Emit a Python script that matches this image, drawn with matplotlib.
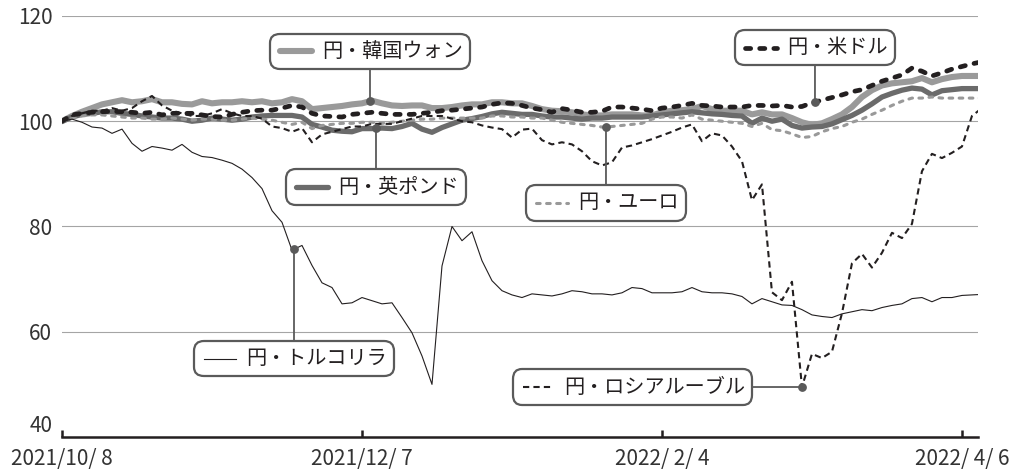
import numpy as np
import matplotlib
matplotlib.use("Agg")
import matplotlib.pyplot as plt
from matplotlib.lines import Line2D
from matplotlib.offsetbox import AnnotationBbox, DrawingArea, TextArea, HPacker

plt.rcParams['font.family'] = ['Noto Sans CJK JP', 'DejaVu Sans']

# --- DATA: one value per step along the date axis (ticks at 0, 30, 60, 90) ---
TICK_POS = [0, 30, 60, 90]
TICK_LABELS = ["2021/10/ 8", "2021/12/ 7", "2022/ 2/ 4", "2022/ 4/ 6"]
Y_TICKS = [40, 60, 80, 100, 120]

krw = [100.0, 101.0, 101.8, 102.5, 103.2, 103.6, 104.0, 103.6, 103.8, 104.2,
       103.6, 103.6, 103.3, 103.2, 103.8, 103.4, 103.6, 103.6, 103.8, 103.6,
       103.8, 103.4, 103.6, 104.2, 103.8, 102.3, 102.5, 102.7, 102.9, 103.2,
       103.4, 103.9, 103.4, 103.0, 102.9, 103.0, 103.0, 102.5, 102.5, 102.7,
       103.0, 103.2, 103.2, 103.6, 103.6, 103.4, 103.4, 102.9, 102.3, 102.0,
       101.9, 101.7, 101.3, 101.1, 101.1, 101.3, 101.3, 101.3, 101.1, 101.1,
       101.7, 102.0, 102.1, 102.3, 102.9, 102.3, 102.0, 102.0, 102.0, 101.3,
       101.7, 101.3, 101.3, 100.6, 99.8, 99.3, 99.6, 100.4, 101.3, 102.7,
       104.6, 105.9, 106.8, 107.2, 107.4, 107.6, 108.2, 107.4, 108.0, 108.4,
       108.6, 108.6, 108.6]

gbp = [100.0, 100.8, 101.3, 101.5, 101.8, 101.8, 101.5, 101.3, 101.0, 100.8,
       100.6, 100.6, 100.4, 100.0, 100.2, 100.6, 100.4, 100.2, 100.4, 100.8,
       101.0, 101.1, 101.1, 101.1, 100.8, 99.4, 98.9, 98.3, 98.1, 98.0,
       98.6, 98.6, 98.7, 98.6, 99.0, 99.6, 98.5, 97.9, 98.8, 99.5,
       100.2, 100.5, 100.9, 101.4, 101.7, 101.5, 101.3, 101.3, 101.0, 100.8,
       100.8, 100.6, 100.4, 100.6, 100.6, 100.8, 100.8, 100.8, 100.8, 101.0,
       101.2, 101.4, 101.6, 101.8, 101.6, 101.4, 101.3, 101.1, 101.0, 99.6,
       100.6, 100.0, 100.4, 99.2, 98.7, 98.9, 99.0, 99.5, 100.3, 101.1,
       102.1, 103.3, 104.6, 105.3, 105.9, 106.3, 106.1, 105.0, 105.8, 106.0,
       106.2, 106.2, 106.2]

eur = [100.0, 100.6, 101.0, 101.2, 101.2, 101.0, 100.8, 100.6, 100.6, 100.4,
       100.4, 100.6, 100.4, 100.2, 100.4, 100.4, 100.2, 100.2, 100.4, 100.6,
       100.4, 100.2, 99.8, 99.4, 99.8, 98.6, 99.2, 99.4, 99.6, 99.6,
       99.8, 99.8, 99.6, 99.8, 100.0, 100.2, 100.4, 100.4, 100.6, 100.6,
       100.6, 100.6, 100.6, 101.0, 101.0, 100.8, 100.8, 100.6, 100.6, 100.2,
       99.8, 99.6, 99.4, 99.2, 98.9, 99.0, 99.2, 99.4, 99.6, 100.4,
       100.8, 100.8, 100.6, 101.2, 100.4, 100.2, 100.0, 99.8, 99.6, 99.0,
       99.6, 98.4, 98.2, 97.6, 96.9, 97.1, 98.0, 98.6, 99.0, 99.8,
       100.4, 101.3, 102.1, 103.0, 103.8, 104.4, 104.4, 104.6, 104.4, 104.4,
       104.4, 104.4, 104.4]

rub = [100.0, 101.0, 101.5, 102.0, 102.0, 102.5, 102.0, 102.5, 103.8, 104.8,
       103.0, 102.0, 101.5, 101.0, 101.0, 101.5, 102.3, 101.5, 101.0, 101.0,
       100.5, 99.0, 98.7, 98.0, 98.7, 96.0, 97.5, 98.0, 98.5, 99.0,
       99.0, 99.5, 99.5, 99.5, 100.0, 100.5, 101.0, 101.0, 101.0, 100.5,
       100.0, 99.8, 99.2, 98.8, 98.5, 96.9, 98.4, 98.6, 96.4, 95.6,
       96.0, 95.6, 94.3, 92.4, 91.6, 92.2, 95.0, 95.4, 96.0, 96.6,
       97.3, 98.0, 98.8, 99.4, 96.2, 97.7, 97.3, 95.2, 92.4, 85.0,
       88.0, 67.5, 66.0, 69.5, 49.5, 55.8, 55.0, 56.2, 63.5, 73.0,
       74.8, 72.2, 75.0, 78.8, 77.8, 80.5, 90.5, 93.8, 93.0, 94.0,
       95.2, 101.0, 102.5]

usd = [100.0, 101.2, 101.5, 101.7, 101.8, 101.9, 101.8, 101.7, 101.5, 101.7,
       101.2, 101.5, 101.5, 101.5, 101.2, 100.9, 100.8, 101.3, 101.7, 102.0,
       102.1, 102.1, 102.5, 103.0, 102.7, 101.5, 101.0, 100.9, 100.8, 101.3,
       101.5, 101.7, 101.5, 101.3, 101.3, 101.3, 101.5, 101.7, 102.0, 102.1,
       102.3, 102.5, 102.7, 103.2, 103.5, 103.4, 103.0, 102.5, 102.2, 101.7,
       102.4, 102.1, 101.7, 101.7, 101.9, 102.7, 102.7, 102.5, 102.3, 102.0,
       102.5, 102.7, 103.0, 103.4, 103.0, 102.9, 102.7, 102.7, 102.7, 103.0,
       103.0, 102.9, 103.0, 102.7, 102.8, 103.5, 104.0, 104.5, 105.0, 105.6,
       106.0, 106.8, 107.6, 108.2, 108.8, 110.1, 109.5, 108.6, 109.2, 109.9,
       110.4, 110.9, 111.3]

lira = [100.0, 100.4, 99.8, 98.9, 98.7, 97.7, 98.5, 95.8, 94.3, 95.2,
        94.9, 94.5, 95.6, 94.1, 93.3, 93.1, 92.6, 92.0, 90.9, 89.3,
        87.2, 83.0, 80.8, 75.5, 76.4, 72.6, 69.3, 68.4, 65.3, 65.5,
        66.5, 65.9, 65.3, 65.5, 62.7, 59.8, 55.4, 50.0, 72.5, 80.0,
        77.3, 79.0, 73.5, 69.7, 67.8, 67.0, 66.5, 67.2, 67.0, 66.8,
        67.2, 67.8, 67.6, 67.2, 67.2, 67.0, 67.4, 68.4, 68.2, 67.4,
        67.4, 67.4, 67.6, 68.4, 67.6, 67.4, 67.4, 67.2, 66.7, 65.3,
        66.3, 65.7, 65.1, 65.0, 64.2, 63.2, 62.9, 62.7, 63.4, 63.8,
        64.2, 64.0, 64.6, 65.0, 65.3, 66.3, 66.5, 65.7, 66.5, 66.5,
        66.9, 67.0, 67.1]

# --- STYLES ---
INK = "#231f20"
TXT = "#333333"
BOX_EDGE = "#5a5a5a"
STYLES = {
    "krw": dict(color="#9a9a9a", lw=4.4, solid_capstyle="round", zorder=2),
    "gbp": dict(color="#6b6b6b", lw=3.8, solid_capstyle="round", zorder=3),
    "eur": dict(color="#999999", lw=2.2, ls=(0, (1.2, 2.1)), dash_capstyle="round", zorder=4),
    "rub": dict(color=INK, lw=1.5, ls=(0, (3.0, 2.0)), zorder=5),
    "usd": dict(color=INK, lw=3.4, ls=(0, (1.1, 1.9)), dash_capstyle="round", zorder=6),
    "lira": dict(color=INK, lw=0.8, zorder=7),
}
SERIES = {"krw": krw, "gbp": gbp, "eur": eur, "rub": rub, "usd": usd, "lira": lira}

# label, dot position on x, box centre (x, y); None means "same as the dot"
LABELS = [
    ("krw", "円・韓国ウォン", 30.8, (None, 113.3)),
    ("gbp", "円・英ポンド", 31.4, (None, 87.5)),
    ("eur", "円・ユーロ", 54.4, (None, 84.5)),
    ("usd", "円・米ドル", 75.3, (None, 114.0)),
    ("lira", "円・トルコリラ", 23.2, (None, 54.9)),
    ("rub", "円・ロシアルーブル", 74.0, (57.05, None)),
]


def legend_box(key, label):
    da = DrawingArea(27, 14, 0, 0)
    st = {k: v for k, v in STYLES[key].items() if k != "zorder"}
    da.add_artist(Line2D([2, 25], [7, 7], **st))
    ta = TextArea(label, textprops=dict(fontsize=14.5, color=INK))
    return HPacker(children=[da, ta], align="center", pad=1, sep=5)


def main():
    x = np.arange(len(krw))
    fig = plt.figure(figsize=(10.15, 4.70), dpi=100)
    ax = fig.add_axes([0.0611, 0.0702, 0.9024, 0.8958])

    for yv in Y_TICKS[1:]:
        ax.axhline(yv, color="#a5a5a5", lw=0.8, zorder=1)

    for key, vals in SERIES.items():
        ax.plot(x, vals, **STYLES[key])

    ax.set_xlim(0, 91.6)
    ax.set_ylim(40, 120)
    for s in ["top", "right", "left"]:
        ax.spines[s].set_visible(False)
    ax.spines["bottom"].set_linewidth(1.8)
    ax.spines["bottom"].set_color(INK)
    ax.set_xticks(TICK_POS)
    ax.set_xticklabels(TICK_LABELS)
    ax.set_yticks(Y_TICKS)
    ax.tick_params(axis="x", direction="in", length=5, width=1.8, color=INK,
                   labelsize=15, labelcolor=TXT, pad=8)
    ax.tick_params(axis="y", length=0, labelsize=15, labelcolor=TXT, pad=7)
    # lift the lowest y label a little so it clears the first date label
    ax.get_yticklabels()[0].set_verticalalignment("bottom")

    for key, label, dot_x, (bx, by) in LABELS:
        dot_y = float(np.interp(dot_x, x, SERIES[key]))
        box_xy = (dot_x if bx is None else bx, dot_y if by is None else by)
        ab = AnnotationBbox(legend_box(key, label), (dot_x, dot_y), xybox=box_xy,
                            xycoords="data", boxcoords="data", fontsize=10,
                            bboxprops=dict(boxstyle="round,pad=0.42,rounding_size=0.7",
                                           ec=BOX_EDGE, lw=1.6, fc="white"),
                            arrowprops=dict(arrowstyle="-", color=BOX_EDGE, lw=1.3,
                                            shrinkA=0, shrinkB=0))
        ab.set_zorder(10)
        ax.add_artist(ab)
        ax.scatter([dot_x], [dot_y], s=28, color=BOX_EDGE, zorder=11)

    fig.savefig("out.png", dpi=100)


if __name__ == "__main__":
    main()
